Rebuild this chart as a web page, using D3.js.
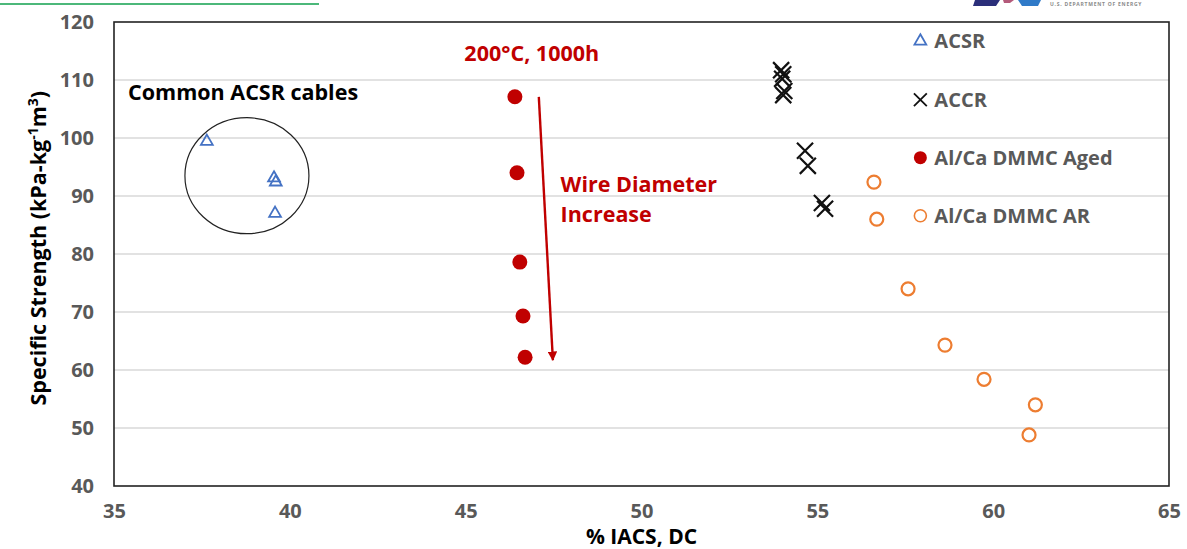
<!DOCTYPE html>
<html>
<head>
<meta charset="utf-8">
<script src="https://cdn.jsdelivr.net/npm/d3@7"></script>
<style>
  html, body { margin: 0; padding: 0; background: #fff; }
  svg { display: block; font-family: "Open Sans", Lato, sans-serif; }
</style>
</head>
<body>
<div id="chart"></div>
<script>
// data
const acsrIacs = [37.64, 39.55, 39.6, 39.58]
const acsrStrength = [99.4, 93.1, 92.4, 87.0]

const accrIacs = [53.97, 54.03, 54.0, 54.06, 54.03, 54.65, 54.73, 55.13, 55.22]
const accrStrength = [111.7, 111.0, 110.2, 108.1, 107.4, 97.8, 95.2, 88.8, 87.8]

const agedIacs = [46.4, 46.46, 46.54, 46.63, 46.69]
const agedStrength = [107.1, 94.0, 78.6, 69.3, 62.2]

const arIacs = [56.61, 56.69, 57.58, 58.63, 59.74, 61.2, 61.02]
const arStrength = [92.4, 86.0, 74.0, 64.3, 58.4, 54.0, 48.8]

const xTicks = [35, 40, 45, 50, 55, 60, 65]
const yTicks = [40, 50, 60, 70, 80, 90, 100, 110, 120]
const legendNames = ["ACSR", "ACCR", "Al/Ca DMMC Aged", "Al/Ca DMMC AR"]

const W = 1187, H = 549
const margin = { top: 22, right: 18, bottom: 63, left: 114 }
const width = W - margin.left - margin.right
const height = H - margin.top - margin.bottom

const BLUE = "#4472c4", ORANGE = "#ed7d31", RED = "#c00000", GRAY = "#595959"
const FS = 20      // tick + legend text
const NOTE = 21.5  // annotations and titles

const svg = d3.select("#chart").append("svg")
	.attr("width", W)
	.attr("height", H)

// slide decoration: green rule top left
svg.append("line")
	.attr("x1", 0).attr("x2", 319).attr("y1", 4).attr("y2", 4)
	.attr("stroke", "#4cb87a").attr("stroke-width", 2)

// logo fragment top right (cut off by the frame)
const logo = svg.append("g")
logo.append("path").attr("d", "M975,0 L1000,0 L996,6 L973,6 Z").attr("fill", "#2b2f7a")
logo.append("path").attr("d", "M1003,0 L1014,0 L1010,3 L1004,3 Z").attr("fill", "#b45a7a")
logo.append("path").attr("d", "M1018,0 L1041,0 L1038,6 L1022,6 Z").attr("fill", "#2f7ac8")
logo.append("text")
	.attr("x", 1050).attr("y", 6)
	.attr("font-size", 5).attr("font-weight", 700)
	.attr("letter-spacing", 0.75)
	.attr("fill", "#8a8a8a")
	.text("U.S. DEPARTMENT OF ENERGY")

const g = svg.append("g")
	.attr("transform", `translate(${margin.left},${margin.top})`)

const x = d3.scaleLinear().domain([35, 65]).range([0, width])
const y = d3.scaleLinear().domain([40, 120]).range([height, 0])

// gridlines
g.append("g")
	.selectAll("line")
	.data(yTicks.slice(1, -1))
	.enter()
	.append("line")
		.attr("x1", 0).attr("x2", width)
		.attr("y1", d => y(d)).attr("y2", d => y(d))
		.attr("stroke", "#d9d9d9").attr("stroke-width", 1.3)

// plot frame
g.append("rect")
	.attr("x", 0).attr("y", 0)
	.attr("width", width).attr("height", height)
	.attr("fill", "none").attr("stroke", "#222").attr("stroke-width", 1.6)

// axes
const xAxis = g.append("g")
	.attr("transform", `translate(0,${height})`)
	.call(d3.axisBottom(x).tickValues(xTicks).tickSize(0).tickPadding(18))
const yAxis = g.append("g")
	.call(d3.axisLeft(y).tickValues(yTicks).tickSize(0).tickPadding(20))
;[xAxis, yAxis].forEach(a => {
	a.select(".domain").remove()
	a.selectAll("text")
		.attr("fill", GRAY)
		.attr("font-size", FS)
		.attr("font-weight", 700)
		.attr("font-family", "'Open Sans', sans-serif")
})

// axis titles
svg.append("text")
	.attr("x", margin.left + x(50)).attr("y", 544)
	.attr("text-anchor", "middle")
	.attr("font-size", 21).attr("font-weight", 700)
	.text("% IACS, DC")

const yTitle = svg.append("text")
	.attr("transform", `translate(46,${margin.top + y(81.0)}) rotate(-90)`)
	.attr("text-anchor", "middle")
	.attr("font-size", NOTE).attr("font-weight", 700)
yTitle.append("tspan").text("Specific Strength (kPa-kg")
yTitle.append("tspan").attr("font-size", 14).attr("dy", -8).text("-1")
yTitle.append("tspan").attr("dy", 8).text("m")
yTitle.append("tspan").attr("font-size", 14).attr("dy", -8).text("3")
yTitle.append("tspan").attr("dy", 8).text(")")

// annotation: common ACSR cables
g.append("ellipse")
	.attr("cx", x(38.78)).attr("cy", y(93.5))
	.attr("rx", 62).attr("ry", 58)
	.attr("fill", "none").attr("stroke", "#222").attr("stroke-width", 1.2)
g.append("text")
	.attr("x", x(35.4)).attr("y", y(106.6))
	.attr("font-size", NOTE).attr("font-weight", 700)
	.text("Common ACSR cables")

// annotation: ageing arrow
svg.append("defs").append("marker")
	.attr("id", "arrow")
	.attr("viewBox", "0 0 10 10")
	.attr("refX", 9).attr("refY", 5)
	.attr("markerWidth", 4).attr("markerHeight", 4)
	.attr("orient", "auto")
	.append("path").attr("d", "M0,0 L10,5 L0,10 Z").attr("fill", RED)
g.append("line")
	.attr("x1", x(47.08)).attr("y1", y(107.1))
	.attr("x2", x(47.48)).attr("y2", y(61.7))
	.attr("stroke", RED).attr("stroke-width", 2.4)
	.attr("marker-end", "url(#arrow)")
g.append("text")
	.attr("x", x(46.88)).attr("y", y(113.2))
	.attr("text-anchor", "middle")
	.attr("font-size", NOTE).attr("font-weight", 700).attr("fill", RED)
	.text("200°C, 1000h")
const wire = g.append("text")
	.attr("font-size", NOTE).attr("font-weight", 700).attr("fill", RED)
wire.append("tspan").attr("x", x(47.7)).attr("y", y(90.7)).text("Wire Diameter")
wire.append("tspan").attr("x", x(47.7)).attr("y", y(85.5)).text("Increase")

// marker drawers
const tri = d3.symbol().type(d3.symbolTriangle2).size(100)
const cross = d3.symbol().type(d3.symbolX).size(170)

function drawTriangle(sel) {
	sel.append("path").attr("d", tri)
		.attr("fill", "none").attr("stroke", BLUE).attr("stroke-width", 1.8)
}
function drawCross(sel) {
	sel.append("path").attr("d", cross)
		.attr("fill", "none").attr("stroke", "#111").attr("stroke-width", 2.2)
}
function drawDot(sel, r) {
	sel.append("circle").attr("r", r).attr("fill", RED)
}
function drawRing(sel, r) {
	sel.append("circle").attr("r", r)
		.attr("fill", "none").attr("stroke", ORANGE).attr("stroke-width", 2.2)
}

function series(xs, ys) {
	return xs.map((v, i) => ({ x: v, y: ys[i] }))
}
function place(data) {
	return g.append("g").selectAll("g")
		.data(data)
		.enter()
		.append("g")
			.attr("transform", d => `translate(${x(d.x)},${y(d.y)})`)
}

drawTriangle(place(series(acsrIacs, acsrStrength)))
drawCross(place(series(accrIacs, accrStrength)))
drawDot(place(series(agedIacs, agedStrength)), 7.5)
drawRing(place(series(arIacs, arStrength)), 6.5)

// legend
const legendY = [116.7, 106.6, 96.6, 86.6]
const legend = g.append("g")
legendNames.forEach((name, i) => {
	const item = legend.append("g")
		.attr("transform", `translate(${x(57.93)},${y(legendY[i])})`)
	if (i === 0) drawTriangle(item)
	if (i === 1) { item.append("path").attr("d", d3.symbol().type(d3.symbolX).size(110)).attr("stroke", "#111").attr("stroke-width", 1.8) }
	if (i === 2) drawDot(item, 6.5)
	if (i === 3) item.append("circle").attr("r", 6).attr("fill", "none").attr("stroke", ORANGE).attr("stroke-width", 1.6)
	item.append("text")
		.attr("x", 14).attr("y", 7)
		.attr("font-size", FS).attr("font-weight", 700).attr("fill", GRAY)
		.text(name)
})
</script>
</body>
</html>
